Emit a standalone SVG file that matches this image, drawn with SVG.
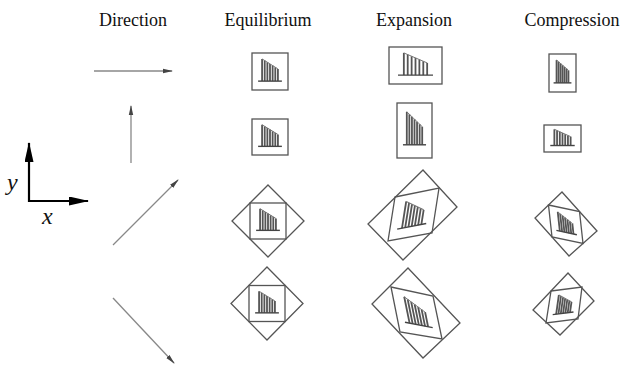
<svg xmlns="http://www.w3.org/2000/svg" xmlns:xlink="http://www.w3.org/1999/xlink" width="622" height="366" viewBox="0 0 622 366">
  <style>
    .hdr { font-family: "Liberation Serif", "Times New Roman", serif; font-size: 18px; fill: #111; text-anchor: middle; }
    .axl { font-family: "Liberation Serif", "Times New Roman", serif; font-size: 24px; font-style: italic; fill: #111; }
    .frame { fill: none; stroke: #555; stroke-width: 1.3; }
    .dir { stroke: #888; stroke-width: 1.3; fill: none; }
    .bar { stroke: #555; stroke-width: 1.8; vector-effect: non-scaling-stroke; }
    .base { stroke: #444; stroke-width: 1.4; vector-effect: non-scaling-stroke; }
    .top { stroke: #777; stroke-width: 1; fill: none; vector-effect: non-scaling-stroke; }
    .axis { stroke: #000; stroke-width: 2.2; fill: none; }
  </style>
  <defs>
    <marker id="dirhead" viewBox="0 0 10 6" refX="9" refY="3" markerWidth="10" markerHeight="6" markerUnits="userSpaceOnUse" orient="auto">
      <path d="M0,0.8 L10,3 L0,5.2 Z" fill="#444"/>
    </marker>
    <marker id="axhead" viewBox="0 0 20 9" refX="19" refY="4.5" markerWidth="20" markerHeight="9" markerUnits="userSpaceOnUse" orient="auto">
      <path d="M0,0 L20,4.5 L0,9 Z" fill="#000"/>
    </marker>
    <!-- bar chart drawn in a unit square centred on the origin -->
    <g id="chart">
      <line class="bar" x1="-0.22" y1="0.26" x2="-0.22" y2="-0.34"/>
      <line class="bar" x1="-0.147" y1="0.26" x2="-0.147" y2="-0.295"/>
      <line class="bar" x1="-0.073" y1="0.26" x2="-0.073" y2="-0.25"/>
      <line class="bar" x1="0" y1="0.26" x2="0" y2="-0.205"/>
      <line class="bar" x1="0.073" y1="0.26" x2="0.073" y2="-0.16"/>
      <line class="bar" x1="0.147" y1="0.26" x2="0.147" y2="-0.115"/>
      <line class="bar" x1="0.22" y1="0.26" x2="0.22" y2="-0.07"/>
      <line class="top" x1="-0.22" y1="-0.34" x2="0.22" y2="-0.07"/>
      <line class="base" x1="-0.33" y1="0.26" x2="0.33" y2="0.26"/>
    </g>
  </defs>

  <!-- column headings -->
  <g id="headings">
    <text class="hdr" x="133" y="26">Direction</text>
    <text class="hdr" x="268" y="26">Equilibrium</text>
    <text class="hdr" x="414" y="26">Expansion</text>
    <text class="hdr" x="572" y="26">Compression</text>
  </g>

  <!-- reference axes -->
  <g id="axes">
    <line class="axis" x1="29" y1="202" x2="29" y2="143" marker-end="url(#axhead)"/>
    <line class="axis" x1="28" y1="201" x2="88" y2="201" marker-end="url(#axhead)"/>
    <text class="axl" x="7" y="190">y</text>
    <text class="axl" x="42" y="224">x</text>
  </g>

  <!-- stretch directions -->
  <g id="connectors">
    <line class="dir" x1="94" y1="71" x2="172" y2="71" marker-end="url(#dirhead)"/>
    <line class="dir" x1="131" y1="163" x2="131" y2="106" marker-end="url(#dirhead)"/>
    <line class="dir" x1="113" y1="245" x2="178" y2="180" marker-end="url(#dirhead)"/>
    <line class="dir" x1="113" y1="298" x2="174" y2="363" marker-end="url(#dirhead)"/>
  </g>

  <!-- row 1: horizontal -->
  <g id="eq-1">
    <rect class="frame" x="252" y="53" width="36" height="37"/>
    <use xlink:href="#chart" transform="matrix(36 0 0 37 270 71.5)"/>
  </g>
  <g id="exp-1">
    <rect class="frame" x="389" y="47" width="53" height="37"/>
    <use xlink:href="#chart" transform="matrix(53 0 0 37 415.5 65.5)"/>
  </g>
  <g id="comp-1">
    <rect class="frame" x="549" y="54" width="27" height="38"/>
    <use xlink:href="#chart" transform="matrix(27 0 0 38 562.5 73)"/>
  </g>

  <!-- row 2: vertical -->
  <g id="eq-2">
    <rect class="frame" x="252" y="119" width="36" height="36"/>
    <use xlink:href="#chart" transform="matrix(36 0 0 36 270 137)"/>
  </g>
  <g id="exp-2">
    <rect class="frame" x="397" y="103" width="35" height="55"/>
    <use xlink:href="#chart" transform="matrix(35 0 0 55 414.5 130.5)"/>
  </g>
  <g id="comp-2">
    <rect class="frame" x="544" y="125" width="37" height="27"/>
    <use xlink:href="#chart" transform="matrix(37 0 0 27 562.5 138.5)"/>
  </g>

  <!-- row 3: rising diagonal -->
  <g id="eq-3">
    <polygon class="frame" points="268,185 304,221 268,257 232,221"/>
    <rect class="frame" x="250" y="203" width="36" height="36"/>
    <use xlink:href="#chart" transform="matrix(36 0 0 36 268 221)"/>
  </g>
  <g id="exp-3">
    <polygon class="frame" points="423,170 457,207 403,260 368,224"/>
    <polygon class="frame" points="395,197 439,188 432,233 388,241"/>
    <use xlink:href="#chart" transform="matrix(44 -8.5 -7 44.5 413.5 214.75)"/>
  </g>
  <g id="comp-3">
    <polygon class="frame" points="562,192 597,231 569,256 535,218"/>
    <polygon class="frame" points="548.5,205 579.5,211.5 583,243.5 552,237"/>
    <use xlink:href="#chart" transform="matrix(31 6.5 3.5 32 565.75 224.25)"/>
  </g>

  <!-- row 4: falling diagonal -->
  <g id="eq-4">
    <polygon class="frame" points="267,267 303,303.5 267,340 231,303.5"/>
    <rect class="frame" x="249" y="285.5" width="36" height="36"/>
    <use xlink:href="#chart" transform="matrix(36 0 0 36 267 303.5)"/>
  </g>
  <g id="exp-4">
    <polygon class="frame" points="408,268 460,323 423,358 372,304"/>
    <polygon class="frame" points="391,287 433,296 442,339 400,332"/>
    <use xlink:href="#chart" transform="matrix(42 8 9 44 416.5 313.5)"/>
  </g>
  <g id="comp-4">
    <polygon class="frame" points="568,273 594,301 560,335 533,310"/>
    <polygon class="frame" points="551,291 582,287 578,319 546,323"/>
    <use xlink:href="#chart" transform="matrix(31.5 -4 -4.5 32 564.25 305)"/>
  </g>
</svg>
